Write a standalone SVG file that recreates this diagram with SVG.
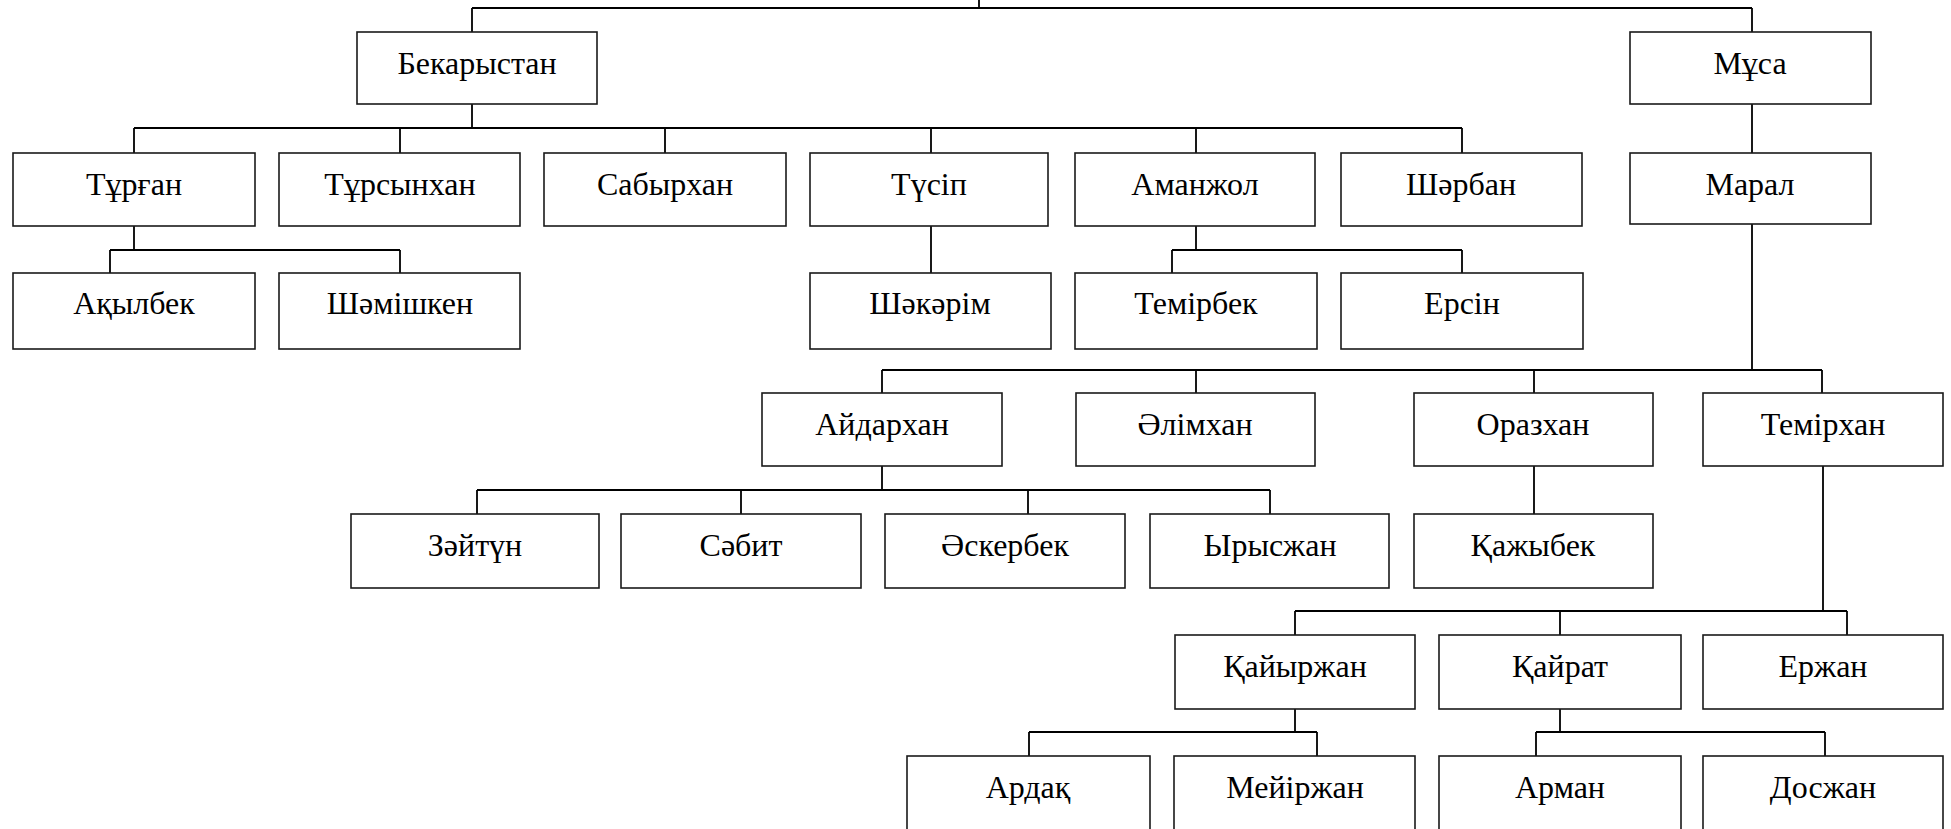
<svg xmlns="http://www.w3.org/2000/svg" width="1951" height="829" viewBox="0 0 1951 829">
<style>
  rect { fill: #ffffff; stroke: #1a1a1a; stroke-width: 1.6; }
  text { font-family: "Liberation Serif", "Times New Roman", serif; font-size: 32px; fill: #000; text-anchor: middle; }
  #connectors path { fill: none; stroke: #000; stroke-width: 1.8; }
</style>
<rect x="0" y="0" width="1951" height="829" style="fill:#fff;stroke:none"/>
<g id="connectors">
  <path d="M979 0V8 M472 8H1752 M472 8V32 M1752 8V32"/>
  <path d="M472 104V128 M134 128H1462 M134 128V153 M400 128V153 M665 128V153 M931 128V153 M1196 128V153 M1462 128V153"/>
  <path d="M1752 104V153"/>
  <path d="M134 226V250 M110 250H400 M110 250V273 M400 250V273"/>
  <path d="M931 226V273"/>
  <path d="M1196 226V250 M1172 250H1462 M1172 250V273 M1462 250V273"/>
  <path d="M1752 224V370 M882 370H1822 M882 370V393 M1196 370V393 M1534 370V393 M1822 370V393"/>
  <path d="M882 466V490 M477 490H1270 M477 490V514 M741 490V514 M1028 490V514 M1270 490V514"/>
  <path d="M1534 466V514"/>
  <path d="M1823 466V611 M1295 611H1847 M1295 611V635 M1560 611V635 M1847 611V635"/>
  <path d="M1295 709V732 M1029 732H1317 M1029 732V756 M1317 732V756"/>
  <path d="M1560 709V732 M1536 732H1825 M1536 732V756 M1825 732V756"/>
</g>
<g id="bekarystan"><rect x="357" y="32" width="240" height="72"/><text x="477" y="74">Бекарыстан</text></g>
<g id="musa"><rect x="1630" y="32" width="241" height="72"/><text x="1750" y="74">Мұса</text></g>
<g id="turgan"><rect x="13" y="153" width="242" height="73"/><text x="134" y="195">Тұрған</text></g>
<g id="tursynkhan"><rect x="279" y="153" width="241" height="73"/><text x="400" y="195">Тұрсынхан</text></g>
<g id="sabyrkhan"><rect x="544" y="153" width="242" height="73"/><text x="665" y="195">Сабырхан</text></g>
<g id="tusip"><rect x="810" y="153" width="238" height="73"/><text x="929" y="195">Түсіп</text></g>
<g id="amanzhol"><rect x="1075" y="153" width="240" height="73"/><text x="1195" y="195">Аманжол</text></g>
<g id="sharban"><rect x="1341" y="153" width="241" height="73"/><text x="1461" y="195">Шәрбан</text></g>
<g id="maral"><rect x="1630" y="153" width="241" height="71"/><text x="1750" y="195">Марал</text></g>
<g id="akylbek"><rect x="13" y="273" width="242" height="76"/><text x="134" y="314">Ақылбек</text></g>
<g id="shamishken"><rect x="279" y="273" width="241" height="76"/><text x="400" y="314">Шәмішкен</text></g>
<g id="shakarim"><rect x="810" y="273" width="241" height="76"/><text x="930" y="314">Шәкәрім</text></g>
<g id="temirbek"><rect x="1075" y="273" width="242" height="76"/><text x="1196" y="314">Темірбек</text></g>
<g id="ersin"><rect x="1341" y="273" width="242" height="76"/><text x="1462" y="314">Ерсін</text></g>
<g id="aidarkhan"><rect x="762" y="393" width="240" height="73"/><text x="882" y="435">Айдархан</text></g>
<g id="alimkhan"><rect x="1076" y="393" width="239" height="73"/><text x="1195" y="435">Әлімхан</text></g>
<g id="orazkhan"><rect x="1414" y="393" width="239" height="73"/><text x="1533" y="435">Оразхан</text></g>
<g id="temirkhan"><rect x="1703" y="393" width="240" height="73"/><text x="1823" y="435">Темірхан</text></g>
<g id="zaitun"><rect x="351" y="514" width="248" height="74"/><text x="475" y="556">Зәйтүн</text></g>
<g id="sabit"><rect x="621" y="514" width="240" height="74"/><text x="741" y="556">Сәбит</text></g>
<g id="askerbek"><rect x="885" y="514" width="240" height="74"/><text x="1005" y="556">Әскербек</text></g>
<g id="yryszhan"><rect x="1150" y="514" width="239" height="74"/><text x="1270" y="556">Ырысжан</text></g>
<g id="kazhybek"><rect x="1414" y="514" width="239" height="74"/><text x="1533" y="556">Қажыбек</text></g>
<g id="kaiyrzhan"><rect x="1175" y="635" width="240" height="74"/><text x="1295" y="677">Қайыржан</text></g>
<g id="kairat"><rect x="1439" y="635" width="242" height="74"/><text x="1560" y="677">Қайрат</text></g>
<g id="erzhan"><rect x="1703" y="635" width="240" height="74"/><text x="1823" y="677">Ержан</text></g>
<g id="ardak"><rect x="907" y="756" width="243" height="80"/><text x="1028" y="798">Ардақ</text></g>
<g id="meirzhan"><rect x="1174" y="756" width="241" height="80"/><text x="1295" y="798">Мейіржан</text></g>
<g id="arman"><rect x="1439" y="756" width="242" height="80"/><text x="1560" y="798">Арман</text></g>
<g id="doszhan"><rect x="1703" y="756" width="240" height="80"/><text x="1823" y="798">Досжан</text></g>
</svg>
